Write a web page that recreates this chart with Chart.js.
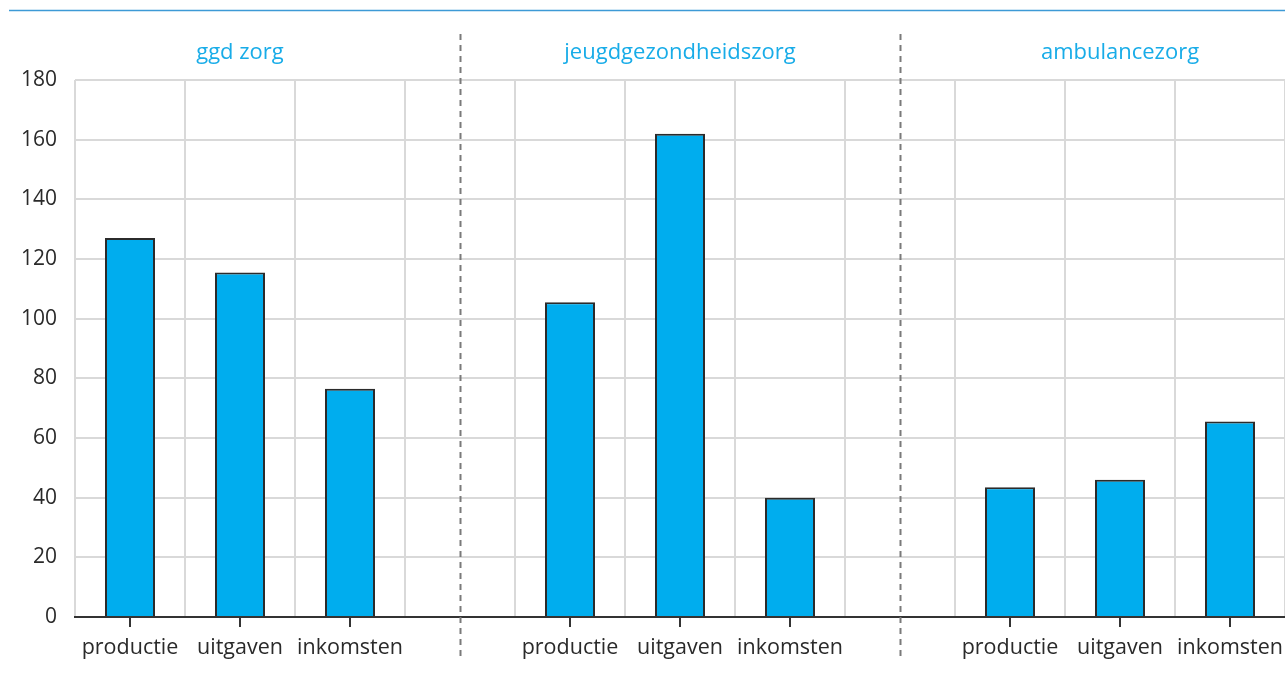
<!DOCTYPE html>
<html>
<head>
<meta charset="utf-8">
<script src="https://cdn.jsdelivr.net/npm/chart.js@4/dist/chart.umd.min.js"></script>
<style>
  html, body { margin: 0; padding: 0; background: #ffffff; }
  #wrap { width: 1285px; height: 684px; position: relative; }
</style>
</head>
<body>
<div id="wrap"><canvas id="chart"></canvas></div>
<script>
// Panel (sector) names and the three measures shown in each panel
const groups = ['ggd zorg', 'jeugdgezondheidszorg', 'ambulancezorg'];
const measures = ['productie', 'uitgaven', 'inkomsten'];

// Values per sector, in order productie, uitgaven, inkomsten
const ggdZorg = [127, 115.5, 76.5];
const jeugdgezondheidszorg = [105.5, 162, 40];
const ambulancezorg = [43.5, 46, 65.5];

// Y axis ticks
const yTicks = [0, 20, 40, 60, 80, 100, 120, 140, 160, 180];

const groupValues = [ggdZorg, jeugdgezondheidszorg, ambulancezorg];

// Build one category axis: the three panels separated by an empty slot
const labels = [];
const values = [];
const separators = [];      // indices of the empty slots
const groupRanges = [];     // [first, last] index of each panel
groupValues.forEach((vals, g) => {
  if (g > 0) {
    separators.push(labels.length);
    labels.push('');
    values.push(null);
  }
  const start = labels.length;
  measures.forEach((m, i) => {
    labels.push(m);
    values.push(vals[i]);
  });
  groupRanges.push([start, labels.length - 1]);
});

const FONT = '"Open Sans", "DejaVu Sans", sans-serif';
const TEXT = '#2a2a2a';
const BLUE_TEXT = '#18ace8';

// Decorations: top rule, panel titles, dashed separators, tick marks
const decorations = {
  id: 'decorations',
  afterDraw(chart) {
    const ctx = chart.ctx;
    const x = chart.scales.x;
    const area = chart.chartArea;
    const slot = x.width / labels.length;
    ctx.save();

    // thin blue rule along the top
    ctx.strokeStyle = '#3d9ad6';
    ctx.lineWidth = 1.5;
    ctx.beginPath();
    ctx.moveTo(9, 10.5);
    ctx.lineTo(chart.width, 10.5);
    ctx.stroke();

    // panel titles centred above each group
    ctx.fillStyle = BLUE_TEXT;
    ctx.font = '22px ' + FONT;
    ctx.textAlign = 'center';
    ctx.textBaseline = 'middle';
    groupRanges.forEach(([a, b], g) => {
      const left = x.getPixelForValue(a) - slot / 2;
      const right = x.getPixelForValue(b) + slot / 2;
      ctx.fillText(groups[g], (left + right) / 2, 53);
    });

    // dashed separators between panels
    ctx.strokeStyle = '#7a7a7a';
    ctx.lineWidth = 2;
    ctx.setLineDash([6, 5]);
    separators.forEach(i => {
      const px = Math.round(x.getPixelForValue(i)) + 0.5;
      ctx.beginPath();
      ctx.moveTo(px, 34);
      ctx.lineTo(px, 656);
      ctx.stroke();
    });
    ctx.setLineDash([]);

    // small tick marks under each labelled bar
    ctx.strokeStyle = '#333333';
    ctx.lineWidth = 2;
    labels.forEach((l, i) => {
      if (!l) return;
      const px = Math.round(x.getPixelForValue(i));
      ctx.beginPath();
      ctx.moveTo(px, area.bottom);
      ctx.lineTo(px, area.bottom + 10);
      ctx.stroke();
    });
    ctx.restore();
  }
};

new Chart(document.getElementById('chart'), {
  type: 'bar',
  data: {
    labels: labels,
    datasets: [{
      data: values,
      backgroundColor: '#00adee',
      borderColor: '#2b2b2b',
      borderWidth: 2,
      borderSkipped: 'bottom',
      barPercentage: 50 / 110,
      categoryPercentage: 1
    }]
  },
  options: {
    responsive: true,
    maintainAspectRatio: false,
    animation: false,
    layout: { padding: { top: 80, right: 0, left: 0, bottom: 0 } },
    plugins: {
      legend: { display: false },
      tooltip: { enabled: false }
    },
    scales: {
      x: {
        offset: true,
        grid: {
          offset: true,
          color: '#d9d9d9',
          lineWidth: 2,
          drawTicks: false
        },
        border: { display: true, color: '#333333', width: 2 },
        ticks: {
          color: TEXT,
          font: { family: FONT, size: 21.5 },
          padding: 18,
          maxRotation: 0,
          autoSkip: false
        },
        afterFit(scale) {
          scale.height = 67;
          scale.paddingLeft = 0;
          scale.paddingRight = 0;
        }
      },
      y: {
        min: 0,
        max: 180,
        afterBuildTicks(scale) {
          scale.ticks = yTicks.map(v => ({ value: v }));
        },
        grid: {
          color: '#d9d9d9',
          lineWidth: 2,
          drawTicks: false
        },
        border: { display: false },
        ticks: {
          color: TEXT,
          font: { family: FONT, size: 21 },
          padding: 18
        },
        afterFit(scale) {
          scale.width = 75;
          scale.paddingTop = 0;
          scale.paddingBottom = 0;
        }
      }
    }
  },
  plugins: [decorations]
});
</script>
</body>
</html>
